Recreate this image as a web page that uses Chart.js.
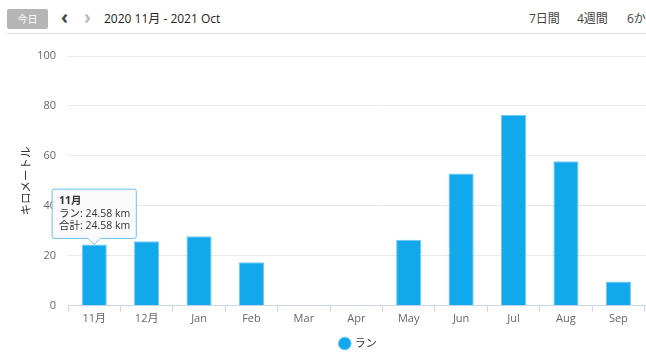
<!DOCTYPE html>
<html>
<head>
<meta charset="utf-8">
<script src="https://cdn.jsdelivr.net/npm/chart.js@4/dist/chart.umd.min.js"></script>
<style>
  html, body { margin: 0; padding: 0; overflow: hidden; background: #fff; }
  body { width: 646px; height: 363px; position: relative; font-family: 'Open Sans', 'Noto Sans CJK JP', sans-serif; color: #333; }
  #toolbar { position: absolute; left: 7px; top: 0; width: 700px; height: 33px; border-bottom: 1px solid #dcdcdc; }
  #today { position: absolute; left: 0; top: 9px; width: 41px; height: 20px; background: #b5b5b5; color: #fff; border-radius: 2px; font-size: 10px; line-height: 20px; text-align: center; }
  .arrow { position: absolute; top: 7px; font-size: 19px; font-weight: bold; line-height: 20px; }
  #prev { left: 54px; color: #444; }
  #next { left: 77px; color: #bbb; }
  #range { position: absolute; left: 97px; top: 9px; font-size: 12px; line-height: 20px; color: #222; }
  .period { position: absolute; top: 9px; font-size: 12px; line-height: 20px; color: #444; }
  #wrap { position: absolute; left: 0; top: 35px; width: 712px; height: 328px; }
</style>
</head>
<body>
<div id="toolbar">
  <div id="today">今日</div>
  <div class="arrow" id="prev">‹</div>
  <div class="arrow" id="next">›</div>
  <div id="range">2020 11月 - 2021 Oct</div>
  <div class="period" style="left:522px">7日間</div>
  <div class="period" style="left:570px">4週間</div>
  <div class="period" style="left:620px">6か月</div>
</div>
<div id="wrap"><canvas id="chart"></canvas></div>
<script>
'use strict'

// **** DATA ****
let months = ['11月', '12月', 'Jan', 'Feb', 'Mar', 'Apr', 'May', 'Jun', 'Jul', 'Aug', 'Sep', 'Oct'];
let runKm = [24.58, 25.8, 27.8, 17.4, 0, 0, 26.4, 53.0, 76.4, 57.9, 9.7, 0];
let yTicks = [0, 20, 40, 60, 80, 100];
let seriesName = 'ラン';
let axisTitle = 'キロメートル';

const fontFamily = "'Open Sans', 'Noto Sans CJK JP', sans-serif";

// **** CHART ****
const ctx = document.getElementById('chart');
const myChart = new Chart(ctx, {
  type: 'bar',
  data: {
    labels: months,
    datasets: [{
      label: seriesName,
      data: runKm,
      backgroundColor: '#12a8ec',
      borderColor: '#74c9f2',
      borderWidth: 1,
      barPercentage: 0.48,
      categoryPercentage: 1
    }]
  },
  options: {
    responsive: true,
    maintainAspectRatio: false,
    animation: false,
    layout: { padding: { left: 20, right: 15, top: 21, bottom: 4 } },
    scales: {
      x: {
        grid: { drawOnChartArea: false, color: '#ccd6eb', tickLength: 6, offset: true },
        border: { color: '#ccd6eb' },
        ticks: { color: '#666', font: { family: fontFamily, size: 11 }, padding: 0 }
      },
      y: {
        min: 0,
        max: 100,
        afterBuildTicks: (scale) => { scale.ticks = yTicks.map(v => ({ value: v })); },
        afterFit: (scale) => { scale.width = 48; },
        grid: { color: '#e9e9e9', drawTicks: false },
        border: { display: false },
        ticks: { color: '#666', font: { family: fontFamily, size: 11 }, padding: 12 },
        title: { display: true, text: axisTitle, color: '#333', font: { family: fontFamily, size: 11.5 }, padding: 0 }
      }
    },
    plugins: {
      legend: {
        position: 'bottom',
        labels: {
          usePointStyle: true,
          pointStyle: 'circle',
          boxWidth: 9,
          boxHeight: 9,
          color: '#333',
          font: { family: fontFamily, size: 11 },
          padding: 13
        }
      },
      tooltip: {
        enabled: true,
        backgroundColor: 'rgba(250,250,250,0.92)',
        borderColor: '#6cc3ee',
        borderWidth: 1,
        cornerRadius: 2,
        caretSize: 6,
        caretPadding: 0,
        padding: { left: 7, right: 6, top: 6, bottom: 6 },
        xAlign: 'center',
        yAlign: 'bottom',
        displayColors: false,
        titleColor: '#333',
        bodyColor: '#333',
        footerColor: '#333',
        titleFont: { family: fontFamily, size: 10.5, weight: 'bold', lineHeight: 1.15 },
        bodyFont: { family: fontFamily, size: 10.5, lineHeight: 1.15 },
        footerFont: { family: fontFamily, size: 10.5, weight: 'normal', lineHeight: 1.15 },
        titleMarginBottom: 1,
        footerMarginTop: 0,
        bodySpacing: 0,
        callbacks: {
          label: (item) => `${item.dataset.label}: ${item.parsed.y.toFixed(2)} km`,
          footer: (items) => `合計: ${items.reduce((s, i) => s + i.parsed.y, 0).toFixed(2)} km`
        }
      }
    }
  }
});

// show the tooltip on the first bar
const firstBar = myChart.getDatasetMeta(0).data[0];
myChart.tooltip.setActiveElements([{ datasetIndex: 0, index: 0 }], { x: firstBar.x, y: firstBar.y });
myChart.update();
</script>
</body>
</html>
